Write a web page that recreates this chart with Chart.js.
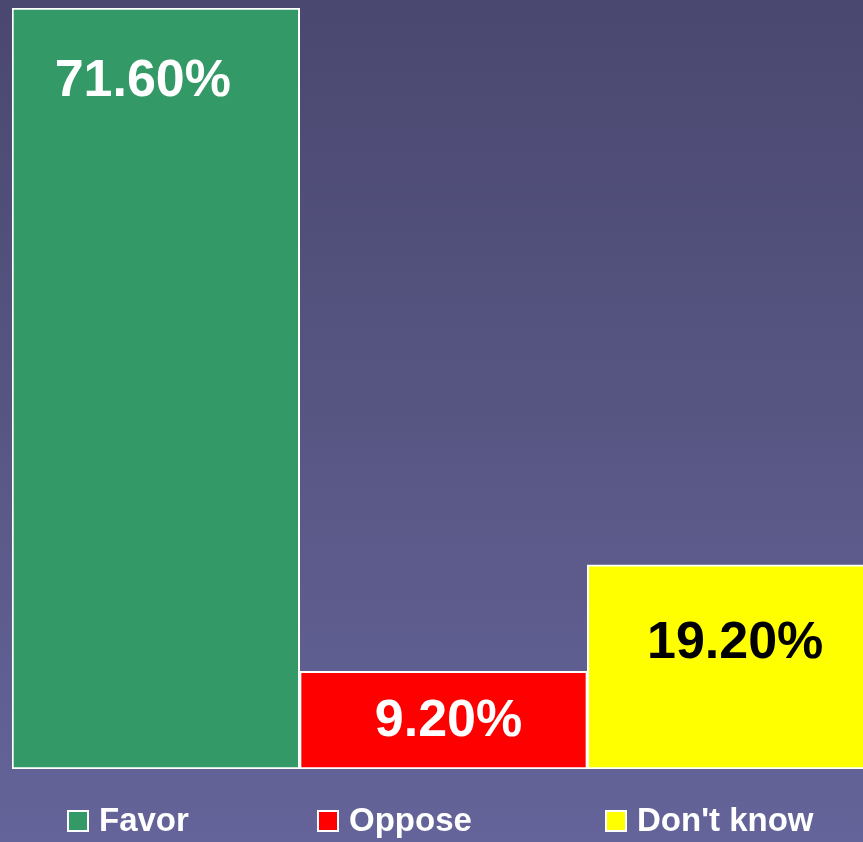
<!DOCTYPE html>
<html>
<head>
<meta charset="utf-8">
<script src="https://cdn.jsdelivr.net/npm/chart.js@4.4.1/dist/chart.umd.min.js"></script>
<style>
  html, body { margin: 0; padding: 0; overflow: hidden; background: #4a4870; }
  #wrap { position: absolute; left: 0; top: 0; width: 875px; height: 842px; }
</style>
</head>
<body>
<div id="wrap"><canvas id="c" width="875" height="842"></canvas></div>
<script>
const categories = ['Favor', 'Oppose', "Don't know"];
const values = [71.6, 9.2, 19.2];
const barColors = ['#339966', '#ff0000', '#ffff00'];
const labelColors = ['#ffffff', '#ffffff', '#000000'];

const FONT = '"Liberation Sans", Arial, sans-serif';

const bgPlugin = {
  id: 'bg',
  beforeDraw(chart) {
    const ctx = chart.ctx;
    const g = ctx.createLinearGradient(0, 0, 0, chart.height);
    g.addColorStop(0, '#4a4870');
    g.addColorStop(0.5, '#575683');
    g.addColorStop(1, '#65649a');
    ctx.save();
    ctx.fillStyle = g;
    ctx.fillRect(0, 0, chart.width, chart.height);
    ctx.restore();
  }
};

// Legend drawn with the chart's labels and colours, laid out like the original slide
const slideLegend = {
  id: 'slideLegend',
  afterDraw(chart, args, opts) {
    const ctx = chart.ctx;
    const labels = chart.data.labels;
    const colors = chart.data.datasets[0].backgroundColor;
    ctx.save();
    ctx.font = 'bold ' + opts.fontSize + 'px ' + FONT;
    ctx.textBaseline = 'middle';
    ctx.textAlign = 'left';
    labels.forEach((lab, i) => {
      const x = opts.starts[i];
      const y = opts.y;
      const b = opts.box;
      ctx.fillStyle = colors[i];
      ctx.fillRect(x, y - b / 2, b, b);
      ctx.strokeStyle = '#ffffff';
      ctx.lineWidth = 2;
      ctx.strokeRect(x, y - b / 2, b, b);
      ctx.fillStyle = '#ffffff';
      ctx.fillText(lab, x + b + opts.gap, y + 1);
    });
    ctx.restore();
  }
};

const valueLabels = {
  id: 'valueLabels',
  afterDatasetsDraw(chart, args, opts) {
    const ctx = chart.ctx;
    const meta = chart.getDatasetMeta(0);
    ctx.save();
    ctx.font = 'bold 52px ' + FONT;
    ctx.textAlign = 'center';
    ctx.textBaseline = 'middle';
    meta.data.forEach((bar, i) => {
      ctx.fillStyle = labelColors[i];
      const v = chart.data.datasets[0].data[i];
      ctx.fillText(v.toFixed(2) + '%', bar.x + opts.dx[i], bar.y + opts.dy[i]);
    });
    ctx.restore();
  }
};

new Chart(document.getElementById('c'), {
  type: 'bar',
  data: {
    labels: categories,
    datasets: [{
      data: values,
      backgroundColor: barColors,
      borderColor: '#ffffff',
      borderWidth: 2,
      borderSkipped: false,
      barPercentage: 1,
      categoryPercentage: 1
    }]
  },
  options: {
    responsive: false,
    animation: false,
    devicePixelRatio: 1,
    layout: { padding: { left: 12, top: 8, right: 0, bottom: 73 } },
    scales: {
      x: { display: false },
      y: { display: false, min: 0, max: Math.max(...values) }
    },
    plugins: {
      tooltip: { enabled: false },
      legend: { display: false },
      valueLabels: { dx: [-13, 5, 4], dy: [74, 50, 79] },
      slideLegend: { starts: [68, 318, 606], y: 821, box: 20, gap: 11, fontSize: 33 }
    }
  },
  plugins: [bgPlugin, valueLabels, slideLegend]
});
</script>
</body>
</html>
